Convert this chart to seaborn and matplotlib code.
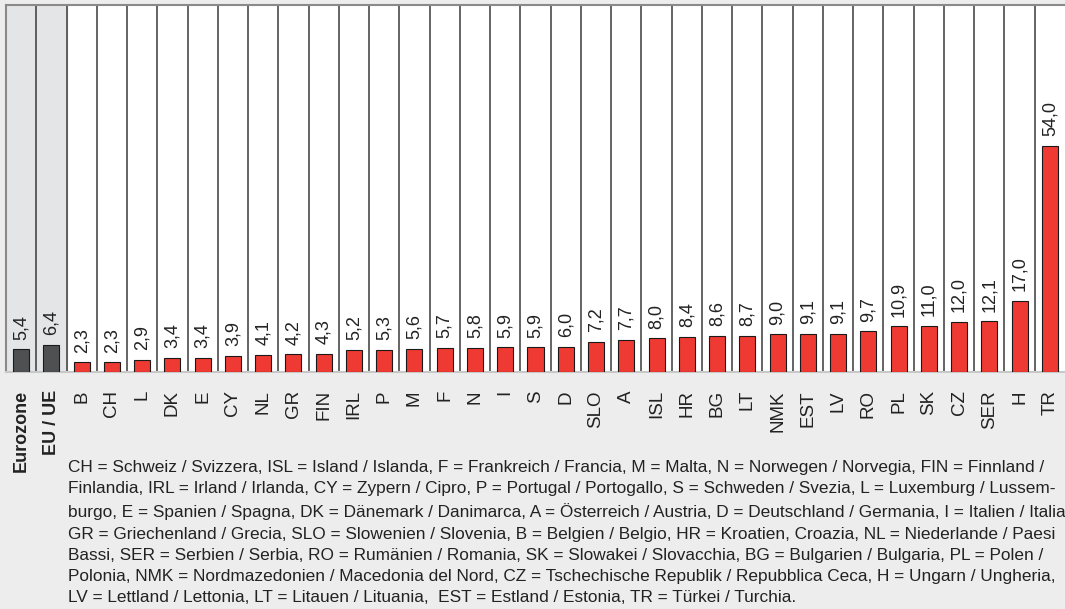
import matplotlib.pyplot as plt
import seaborn as sns

# Daten
laender = ["Eurozone", "EU / UE", "B", "CH", "L", "DK", "E", "CY", "NL", "GR",
           "FIN", "IRL", "P", "M", "F", "N", "I", "S", "D", "SLO", "A", "ISL",
           "HR", "BG", "LT", "NMK", "EST", "LV", "RO", "PL", "SK", "CZ", "SER",
           "H", "TR"]
werte = [5.4, 6.4, 2.3, 2.3, 2.9, 3.4, 3.4, 3.9, 4.1, 4.2, 4.3, 5.2, 5.3, 5.6,
         5.7, 5.8, 5.9, 5.9, 6.0, 7.2, 7.7, 8.0, 8.4, 8.6, 8.7, 9.0, 9.1, 9.1,
         9.7, 10.9, 11.0, 12.0, 12.1, 17.0, 54.0]
aggregate = ["Eurozone", "EU / UE"]

fussnote = (
    "CH = Schweiz / Svizzera, ISL = Island / Islanda, F = Frankreich / Francia, M = Malta, N = Norwegen / Norvegia, FIN = Finnland /\n"
    "Finlandia, IRL = Irland / Irlanda, CY = Zypern / Cipro, P = Portugal / Portogallo, S = Schweden / Svezia, L = Luxemburg / Lussem-\n"
    "burgo, E = Spanien / Spagna, DK = Dänemark / Danimarca, A = Österreich / Austria, D = Deutschland / Germania, I = Italien / Italia\n"
    "GR = Griechenland / Grecia, SLO = Slowenien / Slovenia, B = Belgien / Belgio, HR = Kroatien, Croazia, NL = Niederlande / Paesi\n"
    "Bassi, SER = Serbien / Serbia, RO = Rumänien / Romania, SK = Slowakei / Slovacchia, BG = Bulgarien / Bulgaria, PL = Polen /\n"
    "Polonia, NMK = Nordmazedonien / Macedonia del Nord, CZ = Tschechische Republik / Repubblica Ceca, H = Ungarn / Ungheria,\n"
    "LV = Lettland / Lettonia, LT = Litauen / Lituania,  EST = Estland / Estonia, TR = Türkei / Turchia."
)

sns.set_style("white")
plt.rcParams["font.family"] = ["Liberation Sans", "DejaVu Sans"]

farben = ["#4e5052" if l in aggregate else "#ee3a32" for l in laender]

fig = plt.figure(figsize=(10.65, 6.09), dpi=100, facecolor="#ededed")
ax = fig.add_axes([6 / 1065, (609 - 372) / 609, 1059 / 1065, 367 / 609])
ax.set_facecolor("white")

# Grauer Hintergrund für Eurozone / EU
ax.axvspan(-0.5, len(aggregate) - 0.5, color="#e4e5e7", zorder=0)

sns.barplot(x=laender, y=werte, hue=laender, palette=farben, legend=False,
            width=0.53, edgecolor="#1a1a1a", linewidth=0.8, saturation=1,
            ax=ax, zorder=3)

# Trennlinien zwischen den Spalten
for i in range(len(laender) - 1):
    ax.axvline(i + 0.5, color="#3a3a3a", linewidth=1.1, zorder=1)

# Werte über den Balken
for i, v in enumerate(werte):
    ax.annotate(f"{v:.1f}".replace(".", ","), xy=(i, v), xytext=(0, 7),
                textcoords="offset points", rotation=90, ha="center",
                va="bottom", fontsize=13, color="#222222")

ax.set_xlim(-0.5, len(laender) - 0.5)
ax.set_ylim(0, 87.6)
ax.set_yticks([])
ax.tick_params(axis="x", length=0, pad=13)
ax.set_xticks(range(len(laender)))
ax.set_xticklabels(laender, rotation=90, fontsize=13.5, color="#222222",
                   va="top", ha="center")
for lbl in ax.get_xticklabels():
    if lbl.get_text() in aggregate:
        lbl.set_fontweight("bold")
        lbl.set_fontsize(13)
ax.set_xlabel("")
ax.set_ylabel("")

for s in ["top", "left"]:
    ax.spines[s].set_color("#8a8a8a")
    ax.spines[s].set_linewidth(1.5)
ax.spines["right"].set_visible(False)
ax.spines["bottom"].set_color("#c8c8c8")
ax.spines["bottom"].set_linewidth(1.5)

fig.text(68 / 1065, 1 - 460 / 609, fussnote, fontsize=12.4, color="#222222",
         va="top", ha="left", linespacing=1.52)

fig.savefig("out.png", dpi=100, facecolor=fig.get_facecolor())
